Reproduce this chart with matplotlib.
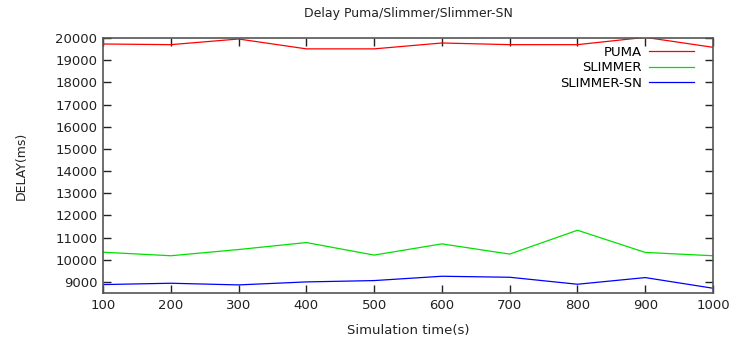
import matplotlib
matplotlib.use("Agg")
import matplotlib.pyplot as plt

# simulation time (s)
sim_time = [100, 200, 300, 400, 500, 600, 700, 800, 900, 1000]

# delay values (ms)
puma = [19730, 19700, 19955, 19510, 19510, 19775, 19700, 19700, 20030, 19580]
slimmer = [10340, 10180, 10460, 10775, 10210, 10715, 10255, 11330, 10330, 10180]
slimmer_sn = [8880, 8940, 8865, 9000, 9060, 9255, 9210, 8895, 9195, 8715]

plt.rcParams['font.family'] = ['DejaVu Sans']
plt.rcParams['font.size'] = 9

fig = plt.figure(figsize=(7.36, 3.41), dpi=100)
ax = fig.add_axes([103 / 736, 1 - 293 / 341, (713 - 103) / 736, (293 - 38) / 341])

ax.plot(sim_time, puma, color='#ff0000', lw=0.9, label='PUMA')
ax.plot(sim_time, slimmer, color='#00e000', lw=0.9, label='SLIMMER')
ax.plot(sim_time, slimmer_sn, color='#0000ff', lw=0.9, label='SLIMMER-SN')

ax.set_xlim(100, 1000)
ax.set_ylim(8500, 20000)
ax.set_xticks(range(100, 1001, 100))
ax.set_yticks(range(9000, 20001, 1000))

ax.tick_params(direction='in', length=6, width=1, top=True, right=True,
               labelsize=9.5, colors='#222222', pad=4)
for s in ax.spines.values():
    s.set_color('#555555')
    s.set_linewidth(1.2)

ax.set_title('Delay Puma/Slimmer/Slimmer-SN', fontsize=9, color='#222222', pad=15)
ax.set_xlabel('Simulation time(s)', fontsize=9.5, color='#222222', labelpad=9)
ax.set_ylabel('DELAY(ms)', fontsize=9, color='#222222', labelpad=20)

ax.legend(loc='upper right', bbox_to_anchor=(0.978, 0.99), frameon=False,
          markerfirst=False, handlelength=3.4, handletextpad=0.6,
          labelspacing=0.2, fontsize=9.5, borderaxespad=0)

fig.savefig('out.png', dpi=100)
